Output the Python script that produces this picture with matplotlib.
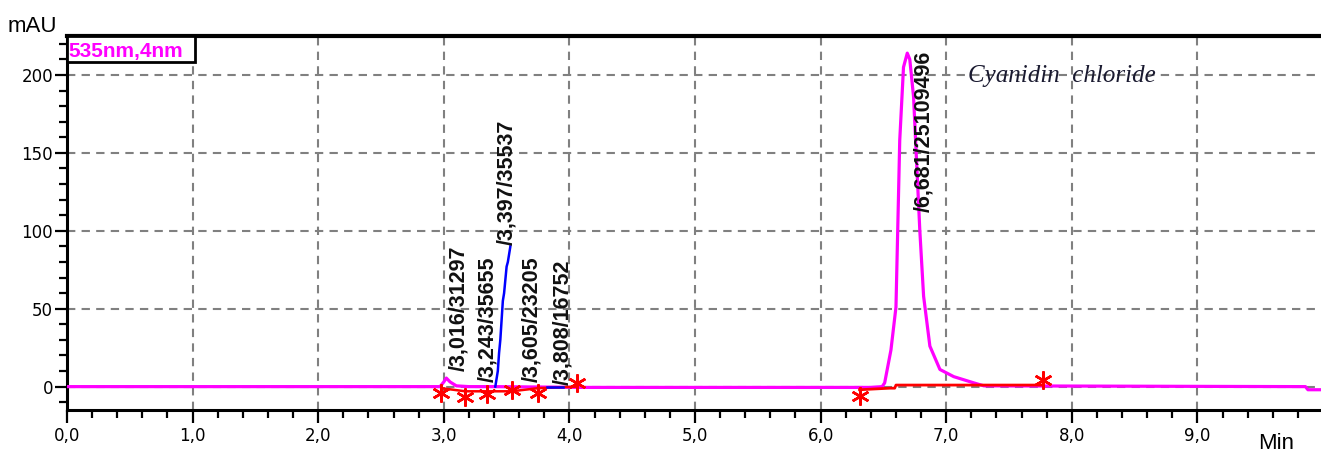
import numpy as np
import matplotlib.pyplot as plt
from matplotlib.patches import Rectangle
from matplotlib.ticker import MultipleLocator, FuncFormatter

# main 535 nm trace (magenta)
trace_t = [0.0, 2.97, 3.00, 3.02, 3.05, 3.10, 3.20, 3.40, 4.10, 6.40, 6.49, 6.51,
           6.56, 6.60, 6.62, 6.63, 6.66, 6.69, 6.71, 6.74, 6.79, 6.82, 6.87, 6.95,
           7.06, 7.22, 7.30, 9.86, 9.88, 9.99]
trace_y = [0, 0, 3, 5.5, 3, 0.5, 0, 0, -0.5, -0.5, 0, 2.4,
           23.5, 51, 122, 158, 205, 214, 210, 186, 100, 58, 26, 11,
           6.4, 2.4, 0.5, 0, -2, -2]

# integrated rising edge of the 3.397 peak (blue)
blue_t = [3.41, 3.43, 3.44, 3.45, 3.47, 3.48, 3.50, 3.51, 3.53]
blue_y = [0, 10, 21.6, 30, 55, 60, 77, 80, 90]
blue_tail_t = [3.82, 3.95]
blue_tail_y = [0, 0]

# baselines (red)
base1_t = [2.98, 3.17, 3.34, 3.54, 3.75, 4.06]
base1_y = [-1, -3, -3, -3, -1, 0]
base2_t = [6.31, 6.55, 6.59, 6.60, 7.77]
base2_y = [-2, -1, -1, 1, 1]

# peak start/end marks
mark_t = [2.98, 3.17, 3.34, 3.54, 3.75, 4.06, 6.31, 7.77]
mark_y = [-4, -6.5, -5, -2, -4, 2.5, -6, 4]

# peak labels
peak_labels = ['/3,016/31297', '/3,243/35655', '/3,397/35537',
               '/3,605/23205', '/3,808/16752', '/6,681/25109496']
label_t = [3.12, 3.35, 3.50, 3.70, 3.95, 6.82]
label_y = [10, 3, 91, 3, 1, 112]

MAGENTA = '#ff00ff'

fig = plt.figure(figsize=(13.21, 4.54), dpi=100)
ax = fig.add_axes([67 / 1321, 1 - 410 / 454, (1321 - 67) / 1321, (410 - 36) / 454])

ax.plot(trace_t, trace_y, color=MAGENTA, lw=2.3, zorder=3)
ax.plot(base1_t, base1_y, color='red', lw=1.8, zorder=4)
ax.plot(base2_t, base2_y, color='red', lw=2.0, zorder=4)
ax.plot(blue_t, blue_y, color='#0000ff', lw=1.8, zorder=5)
ax.plot(blue_tail_t, blue_tail_y, color='#0000ff', lw=1.8, zorder=5)
ax.plot(mark_t, mark_y, ls='none', marker=(6, 2, 0), ms=13, mew=1.8,
        color='red', zorder=6)

for lab, t, y in zip(peak_labels, label_t, label_y):
    ax.text(t, y, lab, rotation=90, ha='center', va='bottom',
            family='Liberation Sans', fontweight='bold',
            fontsize=15.5, color='#111111', zorder=7)

ax.text(7.17, 195.6, 'Cyanidin  chloride', family='Liberation Serif',
        style='italic', fontsize=18, color='#1a1a30', va='baseline', zorder=7)

# legend box in the top left corner
ax.add_patch(Rectangle((0, 0.9305), 0.102, 0.0695, transform=ax.transAxes,
                       facecolor='white', edgecolor='black', lw=2,
                       clip_on=False, zorder=8))
ax.text(0.001, 0.945, '535nm,4nm', transform=ax.transAxes, color=MAGENTA,
        family='Liberation Sans', fontweight='bold', fontsize=15,
        va='baseline', ha='left', zorder=9)

ax.set_xlim(0, 9.984)
ax.set_ylim(-15, 225)
ax.xaxis.set_major_locator(MultipleLocator(1.0))
ax.xaxis.set_minor_locator(MultipleLocator(0.2))
ax.yaxis.set_major_locator(MultipleLocator(50))
ax.yaxis.set_minor_locator(MultipleLocator(10))
ax.xaxis.set_major_formatter(FuncFormatter(lambda v, p: f'{v:.1f}'.replace('.', ',')))
ax.yaxis.set_major_formatter(FuncFormatter(lambda v, p: f'{v:.0f}'))

ax.tick_params(which='major', direction='out', length=9, width=1.6,
               labelsize=12, pad=3, colors='black')
ax.tick_params(which='minor', direction='out', length=5.5, width=1.6)
ax.tick_params(axis='y', which='major', pad=1)

ax.grid(True, which='major', color='#808080', ls=(0, (4, 3)), lw=1.5)
ax.set_axisbelow(True)

for side in ['left', 'bottom']:
    ax.spines[side].set_linewidth(2.2)
ax.spines['top'].set_linewidth(3)
ax.spines['right'].set_visible(False)

fig.text(8 / 1321, 1 - 32 / 454, 'mAU', family='Liberation Sans', fontsize=16,
         va='baseline')
fig.text(1258 / 1321, 1 - 449 / 454, 'Min', family='Liberation Sans', fontsize=16,
         va='baseline')

fig.savefig('out.png', dpi=100)
